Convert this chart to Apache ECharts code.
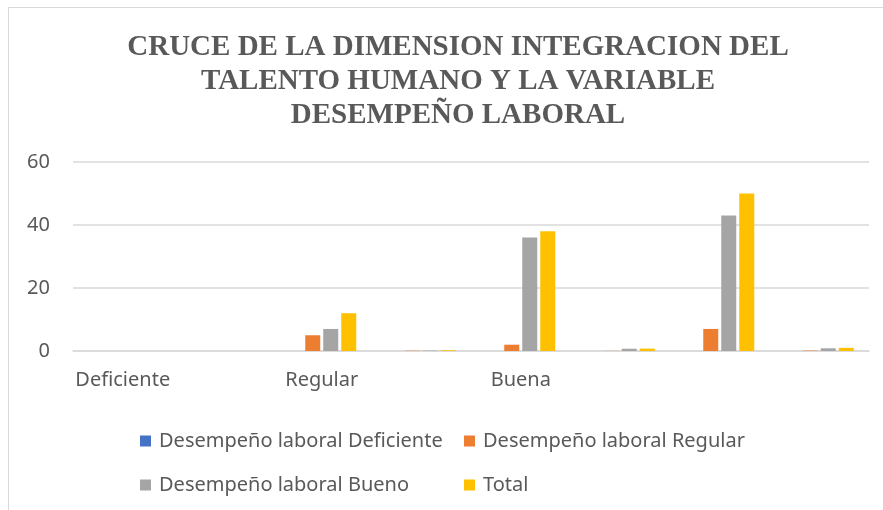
<!DOCTYPE html>
<html>
<head>
<meta charset="utf-8">
<script src="https://cdn.jsdelivr.net/npm/echarts@6/dist/echarts.min.js"></script>
<style>
	html, body { margin: 0; padding: 0; background: #fff; }
	#chart { width: 883px; height: 510px; }
</style>
</head>
<body>
<div id="chart"></div>
<script>
// datos del grafico
const categorias = ['Deficiente', '', 'Regular', '', 'Buena', '', '', ''];
const serieNombres = ['Desempeño laboral Deficiente', 'Desempeño laboral Regular', 'Desempeño laboral Bueno', 'Total'];
const deficiente = [0, 0, 0, 0, 0, 0, 0, 0];
const regular = [0, 0, 5, 0.1, 2, 0.04, 7, 0.14];
const bueno = [0, 0, 7, 0.14, 36, 0.72, 43, 0.86];
const total = [0, 0, 12, 0.24, 38, 0.76, 50, 1];
const ticksY = [0, 20, 40, 60];

const colores = ['#4472C4', '#ED7D31', '#A5A5A5', '#FFC000'];
const chart = echarts.init(document.getElementById('chart'));

const legendaBase = {
	orient: 'vertical',
	top: 424,
	itemWidth: 11,
	itemHeight: 11,
	icon: 'rect',
	itemGap: 20,
	textStyle: {
		color: '#595959',
		fontFamily: 'Noto Sans',
		fontSize: 20,
		lineHeight: 24,
		padding: [0, 0, 0, 3]
	}
};

function serie(i, datos) {
	return {
		name: serieNombres[i],
		type: 'bar',
		barWidth: 15,
		barGap: '20%',
		itemStyle: { color: colores[i] },
		data: datos
	};
}

let option = {
	animation: false,
	color: colores,
	title: {
		text: 'CRUCE DE LA DIMENSION INTEGRACION DEL\nTALENTO HUMANO Y LA VARIABLE\nDESEMPEÑO LABORAL',
		left: 453,
		textAlign: 'center',
		top: 26,
		textStyle: {
			color: '#595959',
			fontFamily: 'Liberation Serif',
			fontWeight: 'bold',
			fontSize: 29,
			lineHeight: 34
		}
	},
	graphic: [{
		type: 'rect',
		shape: { x: 8.5, y: 7.5, width: 900, height: 520 },
		style: { fill: 'none', stroke: '#d9d9d9', lineWidth: 1 },
		silent: true
	}],
	legend: [
		Object.assign({ left: 135, data: [serieNombres[0], serieNombres[2]] }, legendaBase),
		Object.assign({ left: 459, data: [serieNombres[1], serieNombres[3]] }, legendaBase)
	],
	grid: {
		left: 73,
		right: 14,
		top: 162,
		bottom: 159
	},
	xAxis: {
		type: 'category',
		data: categorias,
		axisTick: { show: false },
		axisLine: { lineStyle: { color: '#d9d9d9', width: 1.5 } },
		axisLabel: {
			interval: 0,
			margin: 19,
			color: '#595959',
			fontFamily: 'Noto Sans',
			fontSize: 20
		}
	},
	yAxis: {
		type: 'value',
		min: ticksY[0],
		max: ticksY[ticksY.length - 1],
		interval: 20,
		axisLine: { show: false },
		axisTick: { show: false },
		axisLabel: {
			margin: 23,
			color: '#595959',
			fontFamily: 'Noto Sans',
			fontSize: 20
		},
		splitLine: { lineStyle: { color: '#d9d9d9', width: 1.5 } }
	},
	series: [
		serie(0, deficiente),
		serie(1, regular),
		serie(2, bueno),
		serie(3, total)
	]
};
chart.setOption(option);
</script>
</body>
</html>
